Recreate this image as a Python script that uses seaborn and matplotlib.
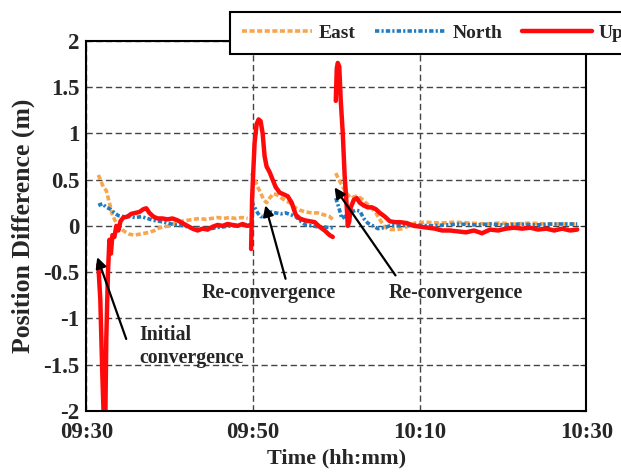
import numpy as np
import pandas as pd
import matplotlib
matplotlib.use("Agg")
import matplotlib.pyplot as plt
import seaborn as sns

sns.set_style("white")
plt.rcParams['font.family'] = ['Liberation Serif', 'DejaVu Serif']
plt.rcParams['font.weight'] = 'bold'
plt.rcParams['axes.unicode_minus'] = False

# minutes after 09:30, one list per segment (three convergence periods)
up_t = [
    [1.44, 1.68, 1.92, 2.1, 2.28, 2.4, 2.6, 2.77, 2.95, 3.13, 3.37, 3.6, 3.85, 4.1, 4.45, 4.93,
     5.4, 5.9, 6.37, 6.85, 7.2, 7.57, 8.05, 8.54, 9.14, 9.74, 10.34, 10.94, 11.54, 12.14, 12.74,
     13.35, 13.95, 14.55, 15.15, 15.75, 16.35, 16.95, 17.55, 18.16, 18.76, 19.36, 19.72],
    [19.78, 19.9, 20.02, 20.2, 20.44, 20.68, 20.92, 21.16, 21.4, 21.64, 22.0, 22.36, 22.72, 23.2,
     23.69, 24.17, 24.65, 25.13, 25.61, 26.21, 26.81, 27.41, 28.0, 28.6, 29.2, 29.58],
    [29.94, 30.06, 30.18, 30.36, 30.54, 30.78, 31.0, 31.26, 31.38, 31.56, 31.74, 32.1, 32.46, 32.82,
     33.3, 33.78, 34.27, 34.75, 35.23, 35.83, 36.43, 37.03, 37.63, 38.47, 39.32, 40.16, 41.0, 41.84,
     42.68, 43.65, 44.61, 45.57, 46.53, 47.49, 48.45, 49.42, 50.38, 51.34, 52.3, 53.26, 54.23,
     55.19, 56.15, 57.11, 58.07, 58.92],
]
up_v = [
    [-0.42, -0.8, -1.6, -2.1, -2.1, -1.2, -0.5, -0.15, -0.3, -0.1, -0.12, 0.0, -0.05, 0.05, 0.09, 0.1,
     0.13, 0.14, 0.15, 0.18, 0.19, 0.14, 0.1, 0.08, 0.08, 0.07, 0.08, 0.06, 0.03, 0.0, -0.03,
     -0.05, -0.03, -0.04, -0.01, 0.01, 0.0, 0.02, 0.01, 0.0, 0.02, 0.0, 0.01],
    [-0.25, 0.3, 0.55, 0.9, 1.1, 1.15, 1.13, 1.0, 0.75, 0.64, 0.58, 0.5, 0.42, 0.36,
     0.34, 0.32, 0.25, 0.12, 0.08, 0.06, 0.05, 0.04, -0.01, -0.05, -0.1, -0.12],
    [1.35, 1.7, 1.76, 1.72, 1.35, 1.0, 0.55, 0.2, 0.0, 0.05, 0.2, 0.28, 0.3, 0.25,
     0.22, 0.2, 0.2, 0.18, 0.14, 0.1, 0.05, 0.04, 0.04, 0.03, 0.0, -0.01, -0.02, -0.03,
     -0.05, -0.05, -0.06, -0.07, -0.05, -0.08, -0.04, -0.05, -0.03, -0.02, -0.03, -0.02, -0.04,
     -0.03, -0.05, -0.03, -0.05, -0.04],
]

east_t = [
    [1.44, 1.68, 2.04, 2.4, 2.77, 3.13, 3.49, 3.97, 4.57, 5.17, 5.77, 6.37, 6.97, 7.57, 8.18, 8.78,
     9.38, 9.98, 10.7, 11.42, 12.14, 12.87, 13.59, 14.31, 15.03, 15.75, 16.47, 17.19, 17.92, 18.64, 19.36],
    [19.84, 20.2, 20.56, 20.92, 21.28, 21.64, 22.0, 22.48, 22.96, 23.45, 23.93, 24.41, 25.01, 25.61,
     26.33, 27.05, 27.77, 28.49, 29.2, 29.58],
    [29.94, 30.3, 30.78, 31.26, 31.74, 32.34, 32.94, 33.55, 34.15, 34.75, 35.35, 35.95, 36.55, 37.27,
     37.99, 38.71, 39.43, 40.64, 42.44, 44.25, 46.05, 47.85, 49.66, 51.46, 53.26, 55.07, 56.87, 58.92],
]
east_v = [
    [0.55, 0.5, 0.42, 0.38, 0.25, 0.12, 0.05, -0.02, -0.06, -0.09, -0.1, -0.09, -0.08, -0.07, -0.05, -0.02,
     -0.01, 0.0, 0.03, 0.05, 0.06, 0.07, 0.08, 0.07, 0.08, 0.09, 0.08, 0.09, 0.08, 0.09, 0.08],
    [0.57, 0.5, 0.42, 0.36, 0.28, 0.25, 0.3, 0.35, 0.33, 0.3, 0.27, 0.25, 0.2, 0.17,
     0.15, 0.14, 0.14, 0.12, 0.1, 0.07],
    [0.57, 0.5, 0.42, 0.35, 0.3, 0.32, 0.3, 0.25, 0.2, 0.14, 0.05, -0.02, -0.04, -0.04,
     -0.03, 0.0, 0.03, 0.04, 0.03, 0.04, 0.03, 0.02, 0.03, 0.02, 0.03, 0.02, 0.02, 0.02],
]

north_t = [
    [1.44, 1.92, 2.4, 2.89, 3.37, 3.85, 4.45, 5.17, 5.89, 6.61, 7.33, 8.05, 8.78, 9.74, 10.7, 11.66,
     12.62, 13.59, 14.55, 15.51, 16.47, 17.43, 18.4, 19.36],
    [19.84, 20.2, 20.56, 20.92, 21.28, 21.76, 22.24, 22.72, 23.33, 23.93, 24.53, 25.13, 25.73, 26.33,
     27.05, 27.77, 28.49, 29.2, 29.58],
    [29.94, 30.3, 30.66, 31.02, 31.38, 31.86, 32.34, 32.82, 33.3, 33.78, 34.39, 34.99, 35.71, 36.43,
     37.63, 39.43, 41.24, 43.04, 44.85, 46.65, 48.45, 50.26, 52.06, 53.87, 55.67, 57.47, 58.92],
]
north_v = [
    [0.22, 0.24, 0.2, 0.18, 0.14, 0.11, 0.1, 0.1, 0.09, 0.1, 0.08, 0.06, 0.05, 0.03, 0.01, 0.0,
     -0.02, -0.03, -0.04, -0.02, -0.01, 0.0, 0.01, 0.0],
    [0.26, 0.2, 0.14, 0.1, 0.1, 0.14, 0.15, 0.14, 0.13, 0.14, 0.12, 0.1, 0.05, 0.01,
     0.0, -0.01, -0.01, -0.02, -0.02],
    [0.3, 0.2, 0.08, 0.1, 0.12, 0.15, 0.17, 0.16, 0.08, 0.03, 0.0, -0.03, -0.02, 0.0,
     0.0, 0.01, 0.0, 0.01, 0.02, 0.01, 0.02, 0.01, 0.02, 0.01, 0.02, 0.02, 0.02],
]

x_ticks = [0, 20, 40, 60]
x_labels = ["09:30", "09:50", "10:10", "10:30"]
y_ticks = [2, 1.5, 1, 0.5, 0, -0.5, -1, -1.5, -2]
y_labels = ["2", "1.5", "1", "0.5", "0", "-0.5", "-1", "-1.5", "-2"]


def to_frame(ts, vs):
    rows = []
    for k, (t, v) in enumerate(zip(ts, vs)):
        for a, b in zip(t, v):
            rows.append((k, a, b))
    return pd.DataFrame(rows, columns=["seg", "t", "val"])


fig = plt.figure(figsize=(6.21, 4.73), dpi=100)
ax = fig.add_axes([0.139, 0.131, 0.805, 0.783])

east_c = "#F8A54E"
north_c = "#1E7DC3"
up_c = "#FF0A0A"
east_ls = (0, (1.4, 0.7))
north_ls = (0, (1.2, 0.6, 0.6, 0.6))

sns.lineplot(data=to_frame(east_t, east_v), x="t", y="val", units="seg", estimator=None,
             sort=False, color=east_c, lw=2.6, linestyle=east_ls, ax=ax)
sns.lineplot(data=to_frame(north_t, north_v), x="t", y="val", units="seg", estimator=None,
             sort=False, color=north_c, lw=2.6, linestyle=north_ls, ax=ax)
sns.lineplot(data=to_frame(up_t, up_v), x="t", y="val", units="seg", estimator=None,
             sort=False, color=up_c, lw=3.2, ax=ax)

ax.set_xlim(0, 60)
ax.set_ylim(-2, 2)
ax.set_xticks(x_ticks)
ax.set_xticklabels(x_labels)
ax.set_yticks(y_ticks)
ax.set_yticklabels(y_labels)
ax.tick_params(direction="in", labelsize=16.5, length=4, pad=5, right=True, top=True)
ax.tick_params(axis="x", pad=8)
ax.grid(True, color="#444444", linestyle=(0, (4.5, 2.5)), lw=1.0)
for s in ax.spines.values():
    s.set_color("black")
    s.set_linewidth(1.5)
ax.set_xlabel("Time (hh:mm)", fontsize=16, fontweight="bold", labelpad=4)
ax.set_ylabel("Position Difference (m)", fontsize=18.5, fontweight="bold", labelpad=6)

arr = dict(arrowstyle="-|>", color="black", lw=1.6, mutation_scale=16)
ax.annotate("", xy=(1.2, -0.31), xytext=(4.9, -1.25), arrowprops=arr)
ax.text(6.4, -1.3, "Initial\nconvergence", fontsize=14.3, fontweight="bold", va="center",
        ha="left", linespacing=1.2)
ax.annotate("", xy=(21.4, 0.25), xytext=(24.0, -0.6), arrowprops=arr)
ax.text(21.9, -0.72, "Re-convergence", fontsize=14.3, fontweight="bold", va="center", ha="center")
ax.annotate("", xy=(29.6, 0.44), xytext=(37.3, -0.56), arrowprops=arr)
ax.text(44.3, -0.73, "Re-convergence", fontsize=14.3, fontweight="bold", va="center", ha="center")

handles = [
    plt.Line2D([], [], color=east_c, lw=2.6, linestyle=east_ls),
    plt.Line2D([], [], color=north_c, lw=2.6, linestyle=north_ls),
    plt.Line2D([], [], color=up_c, lw=3.2),
]
leg = fig.legend(handles, ["East", "North", "Up"], ncol=3, loc="upper left",
                 bbox_to_anchor=(230 / 621, 1 - 12 / 473), fontsize=14, frameon=True,
                 fancybox=False, handlelength=3.6, columnspacing=1.0, handletextpad=0.36,
                 borderpad=0.62, borderaxespad=0)
leg.get_frame().set_edgecolor("black")
leg.get_frame().set_linewidth(1.5)
leg.get_frame().set_alpha(1)

fig.savefig("out.png", dpi=100)
